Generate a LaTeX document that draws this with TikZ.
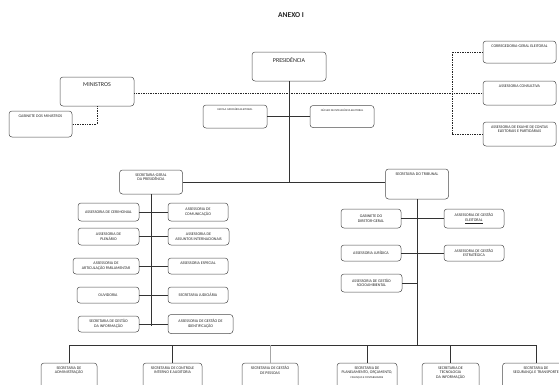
\documentclass[tikz,border=0pt]{standalone}
\usepackage{fontspec}
\setmainfont{Carlito}
\usepackage{tikz}

\begin{document}
\begin{tikzpicture}[x=1pt,y=-1pt,
	unitbox/.style={draw=black!70, line width=0.5pt, rounded corners=3pt, fill=white, inner sep=1pt, align=center, text=black!85, font=\fontsize{4}{4.8}\selectfont},
	toptxt/.style={anchor=north, inner sep=1pt, yshift=-2.5pt, align=center, text=black!85, font=\fontsize{4}{4.8}\selectfont},
	bigtxt/.style={anchor=north, inner sep=1pt, yshift=-5pt, text=black!85, font=\fontsize{6}{7}\selectfont},
	capbox/.style={unitbox, label={[toptxt]north:{#1}}},
	tinybox/.style={unitbox, label={[toptxt, font=\fontsize{2.8}{3.3}\selectfont]north:{#1}}},
	link/.style={draw=black!80, line width=0.6pt},
	dotlink/.style={draw=black!85, line width=0.7pt, densely dotted}]
	\useasboundingbox (0,0) rectangle (559,384);
	\fill[white] (0,0) rectangle (559,384);
	\clip (0,0) rectangle (559,384);
	\node[font=\fontsize{7.5}{9}\selectfont\bfseries, text=black!85] (anexo) at (291,15) {ANEXO I};
	\node[unitbox, minimum width=74pt, minimum height=29pt, label={[bigtxt]north:PRESIDÊNCIA}] (pres) at (289,66.5) {};
	\node[unitbox, minimum width=74pt, minimum height=29pt, label={[bigtxt]north:MINISTROS}] (min) at (97,91.5) {};
	\node[capbox=GABINETE DOS MINISTROS, minimum width=63pt, minimum height=26pt] (gabmin) at (40.5,124) {};
	\node[capbox=CORREGEDORIA-GERAL ELEITORAL, minimum width=73pt, minimum height=22pt] (cge) at (519.5,52) {};
	\node[capbox=ASSESSORIA CONSULTIVA, minimum width=73pt, minimum height=24pt] (asscon) at (519.5,93) {};
	\node[capbox={ASSESSORIA DE EXAME DE CONTAS\\ELEITORAIS E PARTIDÁRIAS}, minimum width=73pt, minimum height=24pt] (asepa) at (519.5,134) {};
	\node[tinybox=ESCOLA JUDICIÁRIA ELEITORAL, minimum width=64pt, minimum height=23pt] (eje) at (235,116.5) {};
	\node[tinybox=NÚCLEO DE INTELIGÊNCIA ELEITORAL, minimum width=64pt, minimum height=22pt] (nie) at (342,116.5) {};
	\node[capbox={SECRETARIA-GERAL\\DA PRESIDÊNCIA}, minimum width=63pt, minimum height=24pt] (sgp) at (151,182) {};
	\node[capbox=SECRETARIA DO TRIBUNAL, minimum width=63pt, minimum height=30pt] (stri) at (417,184) {};
	\node[unitbox, minimum width=61pt, minimum height=18pt] (cer) at (108.5,212) {ASSESSORIA DE CERIMONIAL};
	\node[unitbox, minimum width=60pt, minimum height=18pt] (com) at (198,212) {ASSESSORIA DE\\COMUNICAÇÃO};
	\node[unitbox, minimum width=61pt, minimum height=17pt] (ple) at (108.5,236.5) {ASSESSORIA DE\\PLENÁRIO};
	\node[unitbox, minimum width=61pt, minimum height=17pt] (asi) at (198.5,236.5) {ASSESSORIA DE\\ASSUNTOS INTERNACIONAIS};
	\node[unitbox, minimum width=66pt, minimum height=16pt] (apa) at (106,266) {ASSESSORIA DE\\ARTICULAÇÃO PARLAMENTAR};
	\node[capbox=ASSESSORIA ESPECIAL, minimum width=60pt, minimum height=16pt] (aesp) at (198,266) {};
	\node[unitbox, minimum width=62pt, minimum height=16pt] (ouv) at (108,295) {OUVIDORIA};
	\node[unitbox, minimum width=60pt, minimum height=16pt] (sju) at (198,295) {SECRETARIA JUDICIÁRIA};
	\node[unitbox, minimum width=61pt, minimum height=16pt] (sgi) at (108.5,324) {SECRETARIA DE GESTÃO\\DA INFORMAÇÃO};
	\node[unitbox, minimum width=65pt, minimum height=19pt] (agi) at (200.5,324) {ASSESSORIA DE GESTÃO DE\\IDENTIFICAÇÃO};
	\node[unitbox, minimum width=60pt, minimum height=19pt] (gdg) at (371,218.5) {GABINETE DO\\DIRETOR-GERAL};
	\node[unitbox, minimum width=60pt, minimum height=19pt] (agel) at (474,218.5) {ASSESSORIA DE GESTÃO\\\underline{ELEITORAL}};
	\node[unitbox, minimum width=60pt, minimum height=16pt] (asjur) at (371,253) {ASSESSORIA JURÍDICA};
	\node[unitbox, minimum width=60pt, minimum height=16pt] (age) at (474,253) {ASSESSORIA DE GESTÃO\\ESTRATÉGICA};
	\node[unitbox, minimum width=61pt, minimum height=18pt] (ags) at (371.5,283) {ASSESSORIA DE GESTÃO\\SOCIOAMBIENTAL};
	\node[capbox={SECRETARIA DE\\ADMINISTRAÇÃO}, minimum width=56pt, minimum height=34pt] (sad) at (69,380) {};
	\node[capbox={SECRETARIA DE CONTROLE\\INTERNO E AUDITORIA}, minimum width=59pt, minimum height=34pt] (sci) at (172.5,380) {};
	\node[capbox={SECRETARIA DE GESTÃO\\DE PESSOAS}, minimum width=56pt, minimum height=34pt] (sgpe) at (270,380) {};
	\node[capbox={SECRETARIA DE\\PLANEJAMENTO, ORÇAMENTO,\\{\fontsize{2.8}{3.3}\selectfont FINANÇAS E CONTABILIDADE}}, minimum width=60pt, minimum height=34pt] (spo) at (367,380) {};
	\node[capbox={SECRETARIA DE\\TECNOLOGIA\\DA INFORMAÇÃO}, minimum width=57pt, minimum height=34pt] (sti) at (450.5,380) {};
	\node[capbox={SECRETARIA DE\\SEGURANÇA E TRANSPORTE}, minimum width=67pt, minimum height=34pt] (sst) at (536,380) {};
	\coordinate (dv) at (452,93);
	\coordinate (sgpb) at (151,326);
	\coordinate (trb) at (417,345);
	\coordinate (busw) at (69,345);
	\coordinate (buse) at (536,345);
	\draw[dotlink] (min.east |- asscon) -- (asscon);
	\draw[dotlink] (min) |- (gabmin);
	\draw[dotlink] (cge) -| (dv) |- (asepa);
	\draw[link] (pres) -- (pres |- sgp);
	\draw[link] (eje) -- (nie);
	\draw[link] (sgp.east) -- (sgp.east -| stri.west);
	\draw[link] (sgp) -- (sgpb);
	\draw[link] (cer) -- (com);
	\draw[link] (ple) -- (asi);
	\draw[link] (apa) -- (aesp);
	\draw[link] (ouv) -- (sju);
	\draw[link] (sgi) -- (agi);
	\draw[link] (stri) -- (trb);
	\draw[link] (gdg) -- (agel);
	\draw[link] (asjur) -- (age);
	\draw[link] (ags) -- (ags -| trb);
	\draw[link] (busw) -- (buse);
	\draw[link] (sad |- busw) -- (sad);
	\draw[link] (sci |- busw) -- (sci);
	\draw[link, draw=black!35, line width=0.4pt] (sgpe |- busw) -- (sgpe);
	\draw[link] (spo |- busw) -- (spo);
	\draw[link] (sti |- busw) -- (sti);
	\draw[link] (sst |- busw) -- (sst);
\end{tikzpicture}
\end{document}
